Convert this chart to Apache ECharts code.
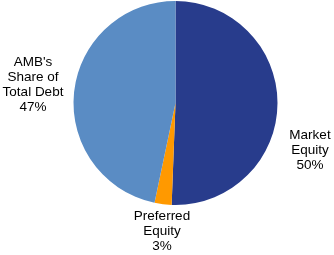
<!DOCTYPE html>
<html><head><meta charset="utf-8">
<script src="https://cdn.jsdelivr.net/npm/echarts@6/dist/echarts.min.js"></script>
<style>html,body{margin:0;padding:0;background:#fff}#c{width:334px;height:255px}</style>
</head><body><div id="c"></div>
<script>
var categories = ["Market\nEquity", "Preferred\nEquity", "AMB's\nShare of\nTotal Debt"];
var values = [50.6, 2.7, 46.7];
var pctLabels = ["50%", "3%", "47%"];
var colors = ["#283C8C", "#FF9900", "#5A8CC4"];
var labelPos = [[310, 150], [162, 231], [33, 84.5]];

var chart = echarts.init(document.getElementById('c'));
chart.setOption({
  animation: false,
  series: [{
    type: 'pie',
    center: [175.5, 103],
    radius: [0, 102],
    startAngle: 90,
    clockwise: true,
    data: categories.map(function (c, i) {
      return { name: c, value: values[i], itemStyle: { color: colors[i] } };
    }),
    label: {
      show: true,
      position: 'outside',
      formatter: function (p) { return p.name + '\n' + pctLabels[p.dataIndex]; },
      fontFamily: 'Liberation Sans, Arial, sans-serif',
      fontSize: 13.5,
      lineHeight: 15,
      color: '#000',
      align: 'center',
      overflow: 'none',
      width: 200
    },
    labelLine: { show: false },
    labelLayout: function (p) {
      var pos = labelPos[p.dataIndex];
      return { x: pos[0], y: pos[1], align: 'center', verticalAlign: 'middle', hideOverlap: false };
    },
    emphasis: { disabled: true }
  }]
});
</script></body></html>
